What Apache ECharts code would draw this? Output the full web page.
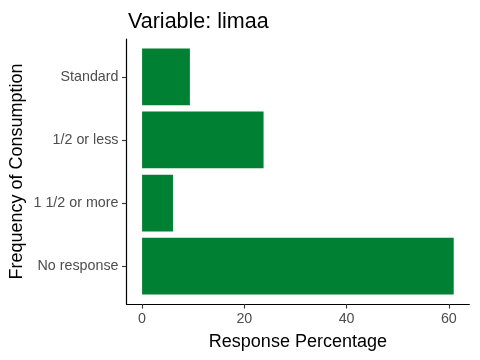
<!DOCTYPE html>
<html><head><meta charset="utf-8">
<script src="https://cdn.jsdelivr.net/npm/echarts@6/dist/echarts.min.js"></script>
<style>html,body{margin:0;padding:0;background:#fff}#c{width:480px;height:360px}</style>
</head><body><div id="c"></div>
<script>
// categories listed bottom-to-top (ECharts category axis order)
const categories = ["No response", "1 1/2 or more", "1/2 or less", "Standard"];
const values = [60.95, 6.04, 23.76, 9.35];
const xTicks = [0, 20, 40, 60];

const chart = echarts.init(document.getElementById('c'), null, {renderer: 'canvas'});
const FONT = 'Liberation Sans, Arial, sans-serif';
const xMin = -3.05, xMax = 64.0;
chart.setOption({
  animation: false,
  backgroundColor: '#ffffff',
  title: {
    text: 'Variable: limaa',
    left: 123, top: 6,
    textStyle: {fontFamily: FONT, fontSize: 21.5, fontWeight: 'normal', color: '#000'}
  },
  grid: [
    {left: 126.5, right: 10.7, top: 39, bottom: 56},
    {left: 126.5, right: 10.7, top: 45.3, bottom: 62.3}
  ],
  xAxis: [
    {
      type: 'value', gridIndex: 0, min: xMin, max: xMax,
      name: 'Response Percentage', nameLocation: 'middle', nameGap: 29,
      nameTextStyle: {fontFamily: FONT, fontSize: 18, color: '#000'},
      axisLine: {show: true, onZero: false, lineStyle: {color: '#000', width: 1.2}},
      axisTick: {show: true, length: 4.5, lineStyle: {color: '#333', width: 1.1}, customValues: xTicks},
      axisLabel: {fontFamily: FONT, fontSize: 14.3, color: '#4D4D4D', margin: 8, customValues: xTicks},
      splitLine: {show: false}
    },
    {
      type: 'value', gridIndex: 1, min: xMin, max: xMax, show: false
    }
  ],
  yAxis: [
    {
      type: 'value', gridIndex: 0, min: 0, max: 1,
      name: 'Frequency of Consumption', nameLocation: 'middle', nameGap: 100,
      nameTextStyle: {fontFamily: FONT, fontSize: 18, color: '#000'},
      axisLine: {show: true, onZero: false, lineStyle: {color: '#000', width: 1.2}},
      axisTick: {show: false}, axisLabel: {show: false}, splitLine: {show: false}
    },
    {
      type: 'category', gridIndex: 1, data: categories,
      axisLine: {show: false, onZero: false},
      axisTick: {show: true, alignWithLabel: true, length: 4.5, lineStyle: {color: '#333', width: 1.1}},
      axisLabel: {fontFamily: FONT, fontSize: 14.3, color: '#4D4D4D', margin: 8},
      splitLine: {show: false}
    }
  ],
  series: [{
    type: 'bar', xAxisIndex: 1, yAxisIndex: 1,
    data: values, barWidth: '90%',
    itemStyle: {color: '#008033'}
  }]
});
</script></body></html>
